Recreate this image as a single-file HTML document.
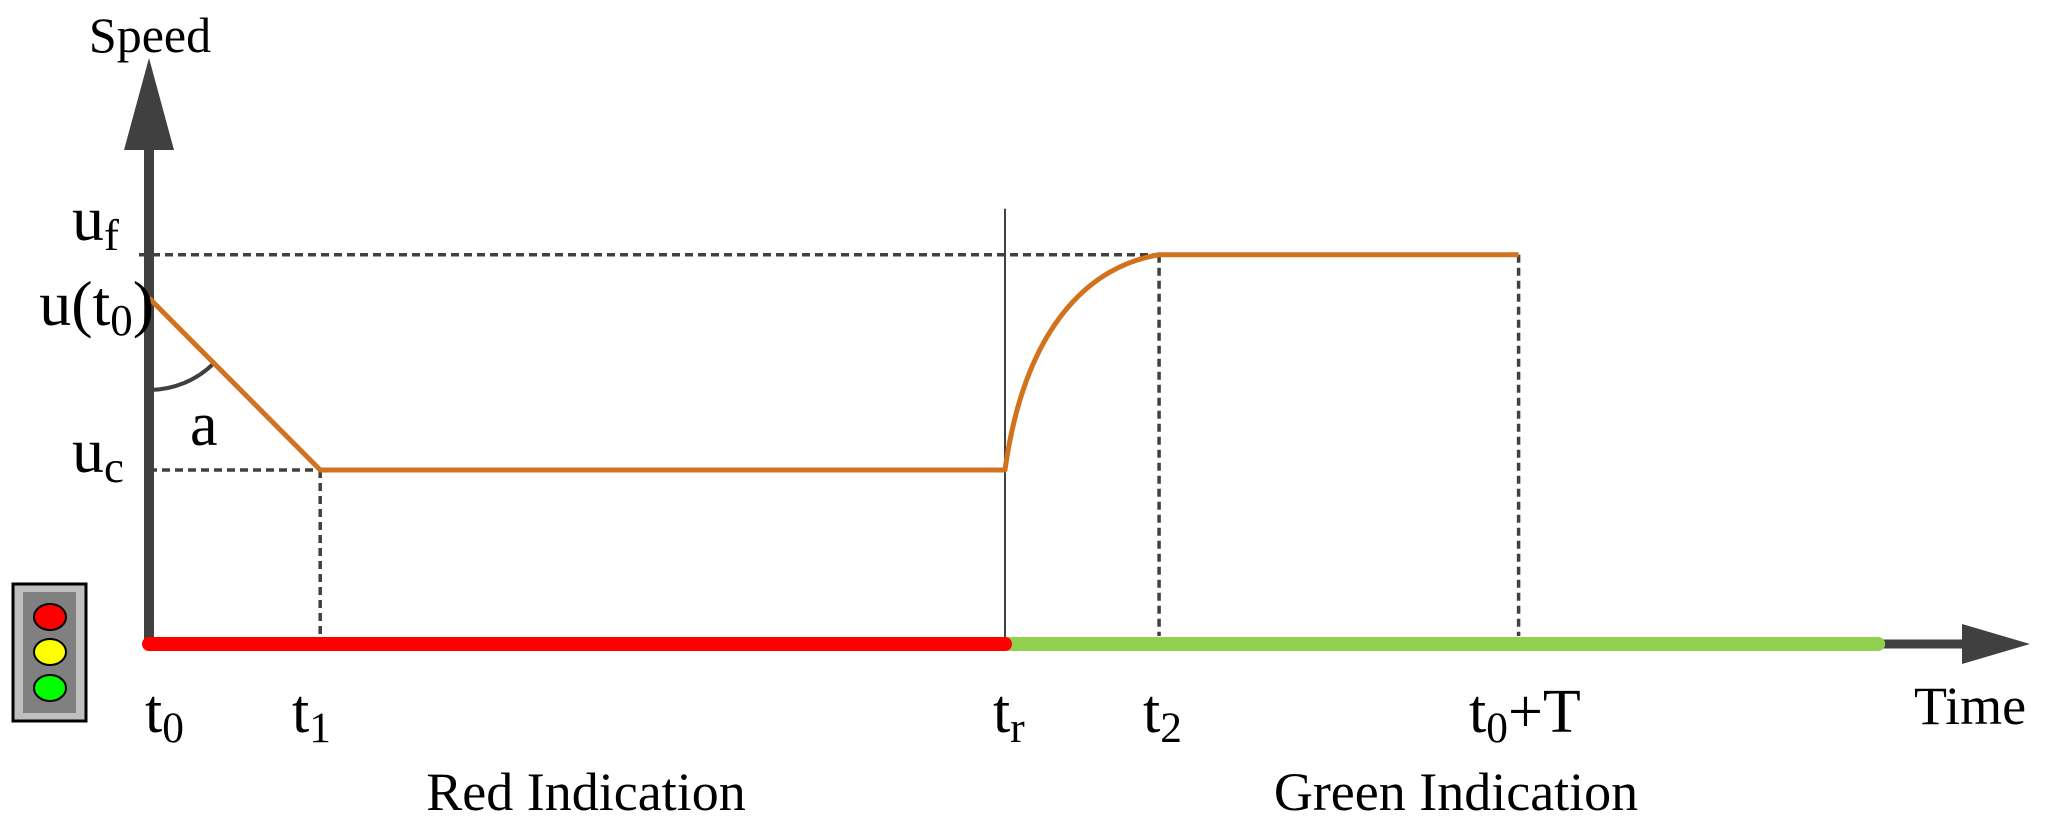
<!DOCTYPE html>
<html><head><meta charset="utf-8">
<style>
html,body{margin:0;padding:0;background:#fff;}
svg{display:block;}
text{font-family:"Liberation Serif",serif;fill:#000;}
</style></head>
<body>
<svg id="chart" width="2066" height="830" viewBox="0 0 2066 830" xmlns="http://www.w3.org/2000/svg">
  <g>
    <rect x="13" y="584" width="73" height="137" fill="#bfbfbf" stroke="#000" stroke-width="3"/>
    <rect x="23" y="592" width="53" height="121" fill="#808080"/>
    <ellipse cx="50" cy="617" rx="16" ry="13" fill="#ff0000" stroke="#000" stroke-width="2"/>
    <ellipse cx="50" cy="652" rx="16" ry="13" fill="#ffff00" stroke="#000" stroke-width="2"/>
    <ellipse cx="50" cy="688" rx="16" ry="13" fill="#00ff00" stroke="#000" stroke-width="2"/>
  </g>
  <g id="guides"></g>
  <g id="axes"></g>
  <g id="series"></g>
  <g id="labels"></g>
</svg>
<script>
// Data (schematic units)
const timeKeys = ['t0','t1','tr','t2','tT'];
const timeValues = [0, 0.2, 1.0, 1.18, 1.60];
const speedKeys = ['uc','u0','uf'];
const speedValues = [0.503, 1.0, 1.125];
const endTime = 2.02;
const redPhase = [0, 1.0];
const greenPhase = [1.0, 2.02];

const NS = 'http://www.w3.org/2000/svg';
const X0 = 149, XS = (1005 - 149) / 1.0;
const Y0 = 644, YS = (644 - 298) / 1.0;
function xs(t){ return X0 + t * XS; }
function ys(v){ return Y0 - v * YS; }
function T(k){ return timeValues[timeKeys.indexOf(k)]; }
function U(k){ return speedValues[speedKeys.indexOf(k)]; }
function mk(tag, attrs, parent){
  const e = document.createElementNS(NS, tag);
  for (const k in attrs) e.setAttribute(k, attrs[k]);
  document.getElementById(parent).appendChild(e);
  return e;
}
const dash = {stroke:'#404040','stroke-width':3.5,'stroke-dasharray':'8 5',fill:'none'};

let g;
g = mk('line', Object.assign({x1:xs(0)-10,y1:ys(U('uf')),x2:xs(T('t2')),y2:ys(U('uf'))},dash),'guides');


g = mk('line', Object.assign({x1:xs(0),y1:ys(U('uc')),x2:xs(T('t1')),y2:ys(U('uc'))},dash),'guides');


[['t1','t1-guide',U('uc')],['t2','t2-guide',U('uf')],['tT','t0T-guide',U('uf')]].forEach(d=>{
  const l = mk('line', Object.assign({x1:xs(T(d[0])),y1:ys(d[2]),x2:xs(T(d[0])),y2:Y0-8},dash),'guides');
  
  
});
g = mk('line',{x1:xs(T('tr')),y1:ys(U('uf'))-46,x2:xs(T('tr')),y2:Y0,stroke:'#404040','stroke-width':2},'guides');



g = mk('line',{x1:X0,y1:Y0,x2:X0,y2:150,stroke:'#404040','stroke-width':10},'axes');


g = mk('polygon',{points:`${X0},58 ${X0-25},150 ${X0+25},150`,fill:'#404040'},'axes');


g = mk('line',{x1:xs(endTime)-10,y1:Y0,x2:1970,y2:Y0,stroke:'#404040','stroke-width':9},'axes');


g = mk('polygon',{points:`1962,624 2030,644 1962,664`,fill:'#404040'},'axes');


g = mk('line',{x1:xs(greenPhase[0]),y1:Y0,x2:xs(greenPhase[1]),y2:Y0,stroke:'#92d050','stroke-width':14,'stroke-linecap':'round'},'axes');


g = mk('line',{x1:xs(redPhase[0]),y1:Y0,x2:xs(redPhase[1]),y2:Y0,stroke:'#ff0000','stroke-width':14,'stroke-linecap':'round'},'axes');



const cx = xs(0), cy = ys(U('u0')), r = 92;
const ang = Math.atan2(ys(U('uc'))-cy, xs(T('t1'))-cx);
g = mk('path',{d:`M ${cx} ${cy+r} A ${r} ${r} 0 0 0 ${cx+r*Math.cos(ang)} ${cy+r*Math.sin(ang)}`,stroke:'#404040','stroke-width':4,fill:'none'},'axes');



const x2 = xs(T('t2')), xr = xs(T('tr'));
const yc = ys(U('uc')), yf = ys(U('uf'));
const d = `M ${xs(0)} ${ys(U('u0'))} L ${xs(T('t1'))} ${yc} L ${xr} ${yc} C ${xr+(x2-xr)*0.12} ${yc-(yc-yf)*0.62} ${xr+(x2-xr)*0.5} ${yf+(yc-yf)*0.06} ${x2} ${yf} L ${xs(T('tT'))} ${yf}`;
g = mk('path',{d:d,stroke:'#d2721e','stroke-width':5,fill:'none','stroke-linejoin':'round'},'series');



function txt(s, x, y, size, anchor, name){
  const t = mk('text',{x:x,y:y,'font-size':size,'text-anchor':anchor||'start'},'labels');
  t.innerHTML = s;
  
  
  return t;
}
const sub = (b,s)=>`${b}<tspan font-size="0.7em" dy="10">${s}</tspan>`;
txt('Speed', 150, 52, 50, 'middle', 'y-axis-title');
txt(sub('u','f'), 72, 240, 64, 'start', 'uf-label');
txt(`u(t<tspan font-size="0.7em" dy="10">0</tspan><tspan dy="-10">)</tspan>`, 154, 325, 64, 'end', 'u-t0-label');
txt('a', 190, 445, 62, 'start', 'angle-label');
txt(sub('u','c'), 72, 472, 64, 'start', 'uc-label');
txt(sub('t','0'), 145, 732, 62, 'start', 't0-tick-label');
txt(sub('t','1'), 292, 732, 62, 'start', 't1-tick-label');
txt(sub('t','r'), 993, 732, 62, 'start', 't2-tick-label-r');
txt(sub('t','2'), 1143, 732, 62, 'start', 't2-tick-label');
txt(`t<tspan font-size="0.7em" dy="10">0</tspan><tspan dy="-10">+T</tspan>`, 1469, 732, 62, 'start', 't0-plus-T-tick-label');
txt('Time', 1914, 724, 54, 'start', 'x-axis-title');
txt('Red Indication', 586, 810, 54, 'middle', 'red-indication-label');
txt('Green Indication', 1456, 810, 54, 'middle', 'green-indication-label');
</script>
</body></html>
